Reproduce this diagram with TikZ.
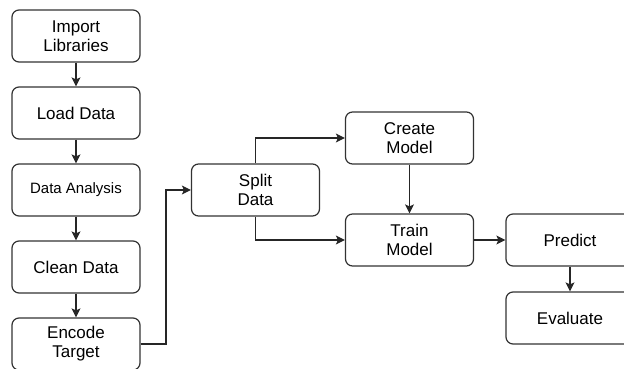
\documentclass[tikz,border=0pt]{standalone}
\usepackage{fontspec}
\setmainfont{Liberation Sans}
\usetikzlibrary{arrows.meta}
\begin{document}
\begin{tikzpicture}[x=1pt,y=-1pt,
  stepbox/.style={draw=black!80, line width=1.2pt, rounded corners=7pt, fill=white,
    minimum width=128pt, minimum height=52pt, align=center, inner sep=0pt,
    font=\fontsize{17}{19}\selectfont},
  conn/.style={draw=black!85, line width=1.1pt, -{Stealth[length=9pt,width=9pt,inset=2pt]}}]
\useasboundingbox (0,0) rectangle (624,369);
\node[stepbox] (imp) at (76,36) {Import\\Libraries};
\node[stepbox] (load) at (76,113) {Load Data};
\node[stepbox, font=\fontsize{15}{17}\selectfont] (ana) at (76,190) {Data Analysis};
\node[stepbox] (clean) at (76,267) {Clean Data};
\node[stepbox] (enc) at (76,344) {Encode\\Target};
\node[stepbox] (split) at (255.5,190) {Split\\Data};
\node[stepbox] (create) at (409.5,138) {Create\\Model};
\node[stepbox] (train) at (409.5,240) {Train\\Model};
\node[stepbox] (pred) at (570,240) {Predict};
\node[stepbox] (eval) at (570,318) {Evaluate};
\draw[conn] (imp) -- (load);
\draw[conn] (load) -- (ana);
\draw[conn] (ana) -- (clean);
\draw[conn] (clean) -- (enc);
\draw[conn] (enc.east) -- (166,344) -- (166,190) -- (split.west);
\draw[conn] (split.north) |- (create.west);
\draw[conn] (split.south) |- (train.west);
\draw[conn] (create) -- (train);
\draw[conn] (train) -- (pred);
\draw[conn] (pred) -- (eval);
\end{tikzpicture}
\end{document}
